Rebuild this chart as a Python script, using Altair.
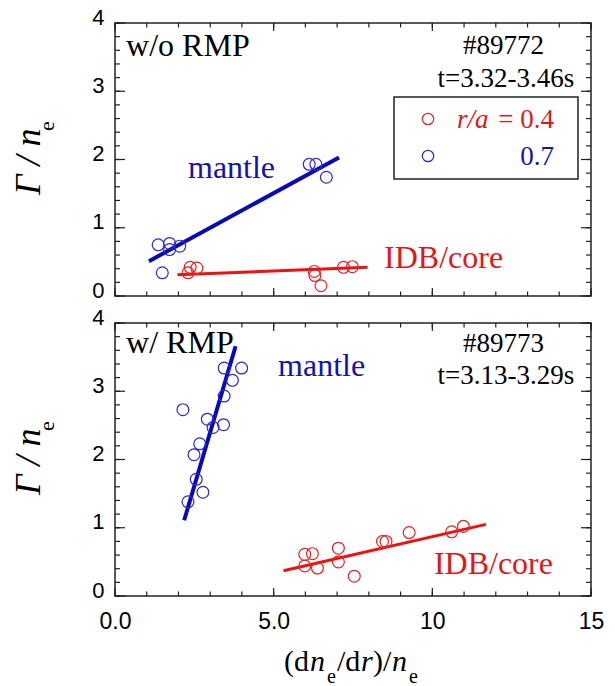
import altair as alt
import pandas as pd

# ---------------- data ----------------
# top panel: w/o RMP (#89772)
top_red_x = [2.30, 2.37, 2.58, 6.28, 6.30, 6.49, 7.20, 7.48]
top_red_y = [0.34, 0.42, 0.41, 0.36, 0.30, 0.15, 0.42, 0.43]
top_blue_x = [1.36, 1.72, 1.72, 2.04, 1.49, 6.12, 6.33, 6.66]
top_blue_y = [0.75, 0.77, 0.68, 0.73, 0.34, 1.93, 1.93, 1.74]
top_red_fit_x = [1.97, 7.96]
top_red_fit_y = [0.31, 0.42]
top_blue_fit_x = [1.07, 7.06]
top_blue_fit_y = [0.51, 2.03]

# bottom panel: w/ RMP (#89773)
bot_blue_x = [2.14, 2.30, 2.56, 2.77, 2.49, 2.67, 2.91, 3.09, 3.42, 3.44, 3.44, 3.70, 3.99]
bot_blue_y = [2.73, 1.38, 1.71, 1.52, 2.07, 2.23, 2.59, 2.47, 2.51, 2.93, 3.34, 3.16, 3.34]
bot_red_x = [5.98, 6.22, 5.98, 6.38, 7.04, 7.04, 7.54, 8.43, 8.54, 9.27, 10.61, 10.98]
bot_red_y = [0.61, 0.62, 0.44, 0.41, 0.70, 0.50, 0.29, 0.80, 0.80, 0.93, 0.94, 1.02]
bot_red_fit_x = [5.31, 11.69]
bot_red_fit_y = [0.37, 1.05]
bot_blue_fit_x = [2.18, 3.80]
bot_blue_fit_y = [1.11, 3.66]

x_major = [0, 5, 10, 15]
x_minor = list(range(0, 16))
y_major = [0, 1, 2, 3, 4]
y_minor = [i / 5 for i in range(0, 21)]
x_tick_labels = ["0.0", "5.0", "10", "15"]

# ---------------- styling ----------------
W, H = 476, 273
SERIF = "Liberation Serif"
SANS = "Liberation Sans"
FRAME = "#222222"
RED_PT = "#e42424"
BLUE_PT = "#2b2bd0"
RED_LINE = "#ee1111"
BLUE_LINE = "#0a0ab4"
RED_TXT = "#e01818"
BLUE_TXT = "#1414a8"

XS = alt.Scale(domain=[0, 15], nice=False, zero=False)
YS = alt.Scale(domain=[0, 4], nice=False, zero=False)
one = pd.DataFrame({"a": [0]})

yaxis = alt.Axis(values=y_major, format="d", ticks=False, tickSize=0, domain=False,
                 grid=False, title=None, labelFont=SANS, labelFontSize=22,
                 labelColor="black", labelPadding=11, labelOffset=-6, labelFlush=False)

label_expr = "[" + ",".join("'%s'" % s for s in x_tick_labels) + "][indexof(" + \
    str(x_major) + ", datum.value)]"
xaxis_bottom = alt.Axis(values=x_major, labelExpr=label_expr, ticks=False, tickSize=0,
                        domain=False, grid=False, title=None, labelFont=SANS,
                        labelFontSize=23, labelColor="black", labelPadding=14,
                        labelFlush=False)


class Panel:
    def __init__(self, show_x):
        self.show_x = show_x

    def X(self, f):
        if self.show_x:
            return alt.X(f, scale=XS, axis=xaxis_bottom)
        return alt.X(f, scale=XS, axis=None)

    def Y(self, f):
        return alt.Y(f, scale=YS, axis=yaxis)

    def pts(self, xs, ys, color):
        df = pd.DataFrame({"x": xs, "y": ys})
        return alt.Chart(df).mark_point(shape="circle", filled=False, size=140,
                                        strokeWidth=1.2, color=color, opacity=1).encode(
            x=self.X("x:Q"), y=self.Y("y:Q"))

    def fit(self, xs, ys, color, sw):
        df = pd.DataFrame({"x": xs, "y": ys})
        return alt.Chart(df).mark_line(color=color, strokeWidth=sw).encode(
            x=self.X("x:Q"), y=self.Y("y:Q"))

    def dtext(self, label, x, y, align, color, size):
        df = pd.DataFrame({"x": [x], "y": [y], "t": [label]})
        return alt.Chart(df).mark_text(align=align, baseline="middle", font=SERIF,
                                       fontSize=size, color=color).encode(
            x=self.X("x:Q"), y=self.Y("y:Q"), text="t:N")

    def ticks(self):
        layers = []
        for vals, L in [(x_minor, 4.5), (x_major, 8)]:
            df = pd.DataFrame({"v": vals})
            layers.append(alt.Chart(df).mark_rule(color=FRAME, strokeWidth=1.2).encode(
                x=self.X("v:Q"), y=alt.value(H), y2=alt.value(H - L)))
            layers.append(alt.Chart(df).mark_rule(color=FRAME, strokeWidth=1.2).encode(
                x=self.X("v:Q"), y=alt.value(0), y2=alt.value(L)))
        for vals, L in [(y_minor, 5), (y_major, 10)]:
            df = pd.DataFrame({"v": vals})
            layers.append(alt.Chart(df).mark_rule(color=FRAME, strokeWidth=1.2).encode(
                y=self.Y("v:Q"), x=alt.value(0), x2=alt.value(L)))
            layers.append(alt.Chart(df).mark_rule(color=FRAME, strokeWidth=1.2).encode(
                y=self.Y("v:Q"), x=alt.value(W), x2=alt.value(W - L)))
        return layers


def ptext(label, px, py, size, color="black", align="left", baseline="alphabetic",
          italic=False, angle=0):
    kw = dict(align=align, baseline=baseline, font=SERIF, fontSize=size, color=color)
    if italic:
        kw["fontStyle"] = "italic"
    if angle:
        kw["angle"] = angle
    return alt.Chart(one).mark_text(**kw).encode(
        x=alt.value(px), y=alt.value(py), text=alt.value(label))


def anchor(top):
    # invisible white rule that fixes the left (and top) margin
    return alt.Chart(one).mark_rule(color="white", strokeWidth=1).encode(
        x=alt.value(-113.5), x2=alt.value(-113), y=alt.value(-21.5 if top else 10),
        y2=alt.value(-21 if top else 11))


def ytitle():
    return [
        ptext("\u0393 / n", -75, 172, 36, italic=True, angle=270),
        ptext("e", -61, 103, 22, align="center", angle=270),
    ]


def legend_symbol(color, py):
    return alt.Chart(one).mark_point(shape="circle", filled=False, size=130,
                                     strokeWidth=1.2, color=color, opacity=1).encode(
        x=alt.value(313), y=alt.value(py))


T = Panel(False)
B = Panel(True)

top_layers = [anchor(True)] + T.ticks() + [
    T.fit(top_blue_fit_x, top_blue_fit_y, BLUE_LINE, 4),
    T.fit(top_red_fit_x, top_red_fit_y, RED_LINE, 3),
    T.pts(top_red_x, top_red_y, RED_PT),
    T.pts(top_blue_x, top_blue_y, BLUE_PT),
    T.dtext("w/o RMP", 0.35, 3.66, "left", "black", 32),
    T.dtext("#89772", 13.52, 3.66, "right", "black", 27),
    T.dtext("t=3.32-3.46s", 14.47, 3.18, "right", "black", 27),
    T.dtext("mantle", 2.30, 1.875, "left", BLUE_TXT, 32),
    T.dtext("IDB/core", 8.48, 0.557, "left", RED_TXT, 32),
    # legend
    alt.Chart(one).mark_rect(fill="white", stroke=FRAME, strokeWidth=1.5).encode(
        x=alt.value(279), x2=alt.value(463), y=alt.value(74), y2=alt.value(156)),
    legend_symbol(RED_PT, 96),
    legend_symbol(BLUE_PT, 133),
    ptext("r/a", 342, 97, 27, color=RED_TXT, baseline="middle", italic=True),
    ptext("= 0.4", 439, 97, 27, color=RED_TXT, align="right", baseline="middle"),
    ptext("0.7", 439, 134, 27, color=BLUE_TXT, align="right", baseline="middle"),
] + ytitle()

bot_layers = [anchor(False)] + B.ticks() + [
    B.fit(bot_blue_fit_x, bot_blue_fit_y, BLUE_LINE, 4),
    B.fit(bot_red_fit_x, bot_red_fit_y, RED_LINE, 3),
    B.pts(bot_red_x, bot_red_y, RED_PT),
    B.pts(bot_blue_x, bot_blue_y, BLUE_PT),
    B.dtext("w/ RMP", 0.35, 3.71, "left", "black", 32),
    B.dtext("#89773", 13.52, 3.69, "right", "black", 27),
    B.dtext("t=3.13-3.29s", 14.47, 3.22, "right", "black", 27),
    B.dtext("mantle", 5.14, 3.37, "left", BLUE_TXT, 32),
    B.dtext("IDB/core", 10.05, 0.47, "left", RED_TXT, 32),
    # x title: (d n_e / d r) / n_e
    ptext("(d", 169, 348, 30),
    ptext("n", 195, 348, 30, italic=True),
    ptext("e", 212, 360, 20),
    ptext("/d", 222, 348, 30),
    ptext("r", 246, 348, 30, italic=True),
    ptext(")/", 258, 348, 30),
    ptext("n", 277, 348, 30, italic=True),
    ptext("e", 294, 360, 20),
] + ytitle()

top = alt.layer(*top_layers).properties(width=W, height=H)
bot = alt.layer(*bot_layers).properties(width=W, height=H)

chart = alt.vconcat(top, bot, spacing=27, bounds="flush").properties(
    padding=0, background="white"
).configure_view(stroke=FRAME, strokeWidth=1.5)

chart.save("out.html", embed_options={"renderer": "svg", "actions": False})
